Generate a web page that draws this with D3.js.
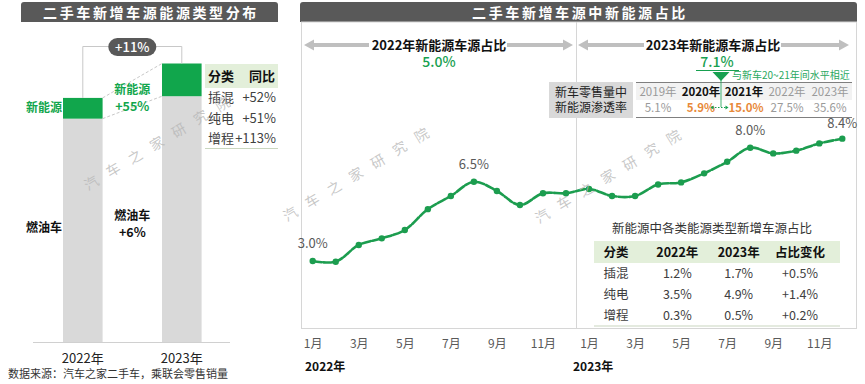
<!DOCTYPE html>
<html><head><meta charset="utf-8">
<script src="https://cdn.jsdelivr.net/npm/d3@7"></script>
<style>
body{margin:0;background:#fff;}
svg{display:block;font-family:"Noto Sans CJK SC","Noto Sans",sans-serif;}
</style></head>
<body><svg id="c" width="865" height="384"></svg>
<script>
// ---------- data ----------
const years = ["2022年", "2023年"];
const iceVolume = [91.5, 100.7];   // relative volume (2022 total = 100)
const nevVolume = [8.5, 13.4];
const yoyTypes = ["插混", "纯电", "增程"];
const yoyValues = ["+52%", "+51%", "+113%"];

const monthLabels = ["1月","2月","3月","4月","5月","6月","7月","8月","9月","10月","11月","12月",
                     "1月","2月","3月","4月","5月","6月","7月","8月","9月","10月","11月","12月"];
const nevShare = [3.0, 2.97, 3.71, 4.0, 4.37, 5.29, 5.87, 6.5, 6.09, 5.47, 5.99, 5.99,
                  6.18, 5.87, 5.87, 6.38, 6.47, 6.87, 7.38, 8.0, 7.75, 7.87, 8.19, 8.4];
const labeledPoints = [0, 7, 19, 23];

const penYears = ["2019年", "2020年", "2021年", "2022年", "2023年"];
const penValues = ["5.1%", "5.9%", "15.0%", "27.5%", "35.6%"];

const shareHeader = ["分类", "2022年", "2023年", "占比变化"];
const shareTypes = ["插混", "纯电", "增程"];
const share2022 = ["1.2%", "3.5%", "0.3%"];
const share2023 = ["1.7%", "4.9%", "0.5%"];
const shareChange = ["+0.5%", "+1.4%", "+0.2%"];

// ---------- setup ----------
const svg = d3.select("#c");
const GREEN = "#11a64c", LINEG = "#1c9d4f", GRAY = "#d9d9d9", DARK = "#595959", TXT = "#404040";

// ---------- headers ----------
function header(x, w, label) {
  svg.append("path").attr("d", `M${x},22 V5 Q${x},2 ${x+3},2 H${x+w-3} Q${x+w},2 ${x+w},5 V22 Z`).attr("fill", DARK);
  svg.append("text").attr("x", x + w/2 + 1.5).attr("y", 17.5).attr("text-anchor", "middle")
    .attr("fill", "#fff").attr("font-size", 14).attr("font-weight", 700).attr("letter-spacing", 2.6).text(label);
}
header(21, 257, "二手车新增车源能源类型分布");
header(300, 557, "二手车新增车源中新能源占比");

// ---------- left panel ----------
const xb = d3.scaleBand().domain(years).range([3.6, 261]).padding(0.6);
const yb = d3.scaleLinear().domain([0, 114.1]).range([342, 63.5]);
const bw = xb.bandwidth();
const left = svg.append("g");

left.selectAll(".ice").data(years).join("rect")
  .attr("x", d => xb(d)).attr("width", bw)
  .attr("y", (d,i) => yb(iceVolume[i])).attr("height", (d,i) => yb(0) - yb(iceVolume[i]))
  .attr("fill", GRAY);
left.selectAll(".nev").data(years).join("rect")
  .attr("x", d => xb(d)).attr("width", bw)
  .attr("y", (d,i) => yb(iceVolume[i] + nevVolume[i])).attr("height", (d,i) => yb(iceVolume[i]) - yb(iceVolume[i] + nevVolume[i]))
  .attr("fill", GREEN);
left.append("line").attr("x1", 33).attr("x2", 230).attr("y1", yb(0)+0.5).attr("y2", yb(0)+0.5).attr("stroke", "#d0d0d0");
left.selectAll(".yl").data(years).join("text")
  .attr("x", d => xb(d) + bw/2).attr("y", 363).attr("text-anchor", "middle")
  .attr("font-size", 13).attr("fill", "#222").text(d => d);

// connecting dashed lines
const x0r = xb(years[0]) + bw, x1l = xb(years[1]);
[[iceVolume[0]+nevVolume[0], iceVolume[1]+nevVolume[1]], [iceVolume[0], iceVolume[1]]].forEach(([a,b]) => {
  left.append("line").attr("x1", x0r).attr("y1", yb(a)).attr("x2", x1l).attr("y2", yb(b))
    .attr("stroke", "#c8c8c8").attr("stroke-dasharray", "3,2");
});
// bracket
const cx0 = xb(years[0]) + bw/2, cx1 = xb(years[1]) + bw/2, topY = 46.5;
left.append("path").attr("d", `M${cx0},${yb(iceVolume[0]+nevVolume[0])} V${topY} H${cx1} V${yb(iceVolume[1]+nevVolume[1])}`)
  .attr("fill", "none").attr("stroke", "#c8c8c8");
const mid = (x0r + x1l) / 2;
left.append("rect").attr("x", mid - 24).attr("y", 38).attr("width", 48).attr("height", 18).attr("rx", 9).attr("fill", DARK);
left.append("text").attr("x", mid).attr("y", 52).attr("text-anchor", "middle").attr("fill", "#fff")
  .attr("font-size", 13).attr("font-weight", 500).text("+11%");

left.append("text").attr("x", 44).attr("y", 112).attr("text-anchor", "middle").attr("fill", GREEN)
  .attr("font-size", 12).attr("font-weight", 700).text("新能源");
left.append("text").attr("x", 44).attr("y", 232).attr("text-anchor", "middle").attr("fill", "#111")
  .attr("font-size", 12).attr("font-weight", 700).text("燃油车");
left.append("text").attr("x", mid).attr("y", 94).attr("text-anchor", "middle").attr("fill", GREEN)
  .attr("font-size", 12).attr("font-weight", 700).text("新能源");
left.append("text").attr("x", mid).attr("y", 111).attr("text-anchor", "middle").attr("fill", GREEN)
  .attr("font-size", 12.5).attr("font-weight", 700).text("+55%");
left.append("text").attr("x", mid).attr("y", 220).attr("text-anchor", "middle").attr("fill", "#111")
  .attr("font-size", 12).attr("font-weight", 700).text("燃油车");
left.append("text").attr("x", mid).attr("y", 237).attr("text-anchor", "middle").attr("fill", "#111")
  .attr("font-size", 12.5).attr("font-weight", 700).text("+6%");

// small yoy table
left.append("rect").attr("x", 205).attr("y", 64).attr("width", 73).attr("height", 24).attr("fill", "#e3efda");
left.append("text").attr("x", 208).attr("y", 81).attr("font-size", 13).attr("font-weight", 700).attr("fill", "#111").text("分类");
left.append("text").attr("x", 275).attr("y", 81).attr("text-anchor", "end").attr("font-size", 13).attr("font-weight", 700).attr("fill", "#111").text("同比");
yoyTypes.forEach((t, i) => {
  left.append("text").attr("x", 208).attr("y", 102 + i*20.5).attr("font-size", 13).attr("fill", TXT).text(t);
  left.append("text").attr("x", 276).attr("y", 102 + i*20.5).attr("text-anchor", "end").attr("font-size", 13).attr("fill", TXT).text(yoyValues[i]);
});
left.append("line").attr("x1", 205).attr("x2", 278).attr("y1", 148.5).attr("y2", 148.5).attr("stroke", "#c9d6bf").attr("stroke-width", 1.2);

svg.append("text").attr("x", 8).attr("y", 378).attr("font-size", 11).attr("fill", "#333").text("数据来源：汽车之家二手车，乘联会零售销量");

// ---------- right panel ----------
const right = svg.append("g");
right.append("rect").attr("x", 301.5).attr("y", 22).attr("width", 555).attr("height", 306.5)
  .attr("fill", "none").attr("stroke", "#d6d6d6");
right.append("line").attr("x1", 576.5).attr("x2", 576.5).attr("y1", 22).attr("y2", 328).attr("stroke", "#d6d6d6");

function sectionArrow(x1, x2, tx0, tx1, y) {
  right.append("path").attr("d", `M${x1},${y} l10,-5.5 v3.5 h${tx0 - x1 - 10} v4 h${-(tx0 - x1 - 10)} v3.5 Z`).attr("fill", "#bfbfbf");
  right.append("path").attr("d", `M${x2},${y} l-10,-5.5 v3.5 h${-(x2 - tx1 - 10)} v4 h${x2 - tx1 - 10} v3.5 Z`).attr("fill", "#bfbfbf");
}
sectionArrow(304, 573, 369, 507, 45);
sectionArrow(578, 849, 644, 781, 45);
right.append("text").attr("x", 439).attr("y", 50).attr("text-anchor", "middle").attr("font-size", 13).attr("font-weight", 700).attr("fill", "#111").text("2022年新能源车源占比");
right.append("text").attr("x", 439).attr("y", 67).attr("text-anchor", "middle").attr("font-size", 14).attr("font-weight", 500).attr("fill", "#17a050").text("5.0%");
right.append("text").attr("x", 713).attr("y", 50).attr("text-anchor", "middle").attr("font-size", 13).attr("font-weight", 700).attr("fill", "#111").text("2023年新能源车源占比");
right.append("text").attr("x", 717).attr("y", 67).attr("text-anchor", "middle").attr("font-size", 14).attr("font-weight", 500).attr("fill", "#17a050").text("7.1%");
right.append("line").attr("x1", 696).attr("x2", 739).attr("y1", 70.5).attr("y2", 70.5).attr("stroke", "#17a050").attr("stroke-width", 1.2);
right.append("path").attr("d", "M712.5,72 H729.5 L721,81 Z").attr("fill", "#17a050");
right.append("text").attr("x", 732).attr("y", 79).attr("font-size", 10).attr("fill", "#2aa860").text("与新车20~21年间水平相近");

// penetration table
right.append("rect").attr("x", 549).attr("y", 82).attr("width", 84).attr("height", 36).attr("fill", "#d9d9d9");
right.append("text").attr("x", 591).attr("y", 97).attr("text-anchor", "middle").attr("font-size", 12).attr("fill", "#222").text("新车零售量中");
right.append("text").attr("x", 591).attr("y", 112).attr("text-anchor", "middle").attr("font-size", 12).attr("fill", "#222").text("新能源渗透率");
right.append("rect").attr("x", 636).attr("y", 83).attr("width", 216).attr("height", 17).attr("fill", "#f2f2f2");
right.append("line").attr("x1", 636).attr("x2", 852).attr("y1", 82.5).attr("y2", 82.5).attr("stroke", "#7f7f7f");
right.append("line").attr("x1", 636).attr("x2", 852).attr("y1", 117.5).attr("y2", 117.5).attr("stroke", "#7f7f7f");
const penX = d3.scalePoint().domain(penYears).range([658, 830]);
penYears.forEach((y, i) => {
  const hi = (i === 1 || i === 2);
  right.append("text").attr("x", penX(y)).attr("y", 96).attr("text-anchor", "middle").attr("font-size", 11.5)
    .attr("font-weight", hi ? 700 : 400).attr("fill", hi ? "#111" : "#9a9a9a").text(y);
  right.append("text").attr("x", penX(y) + (i === 2 ? 2 : 0)).attr("y", 112).attr("text-anchor", "middle").attr("font-size", 11.5)
    .attr("font-weight", hi ? 700 : 400).attr("fill", hi ? "#e8893a" : "#9a9a9a").text(penValues[i]);
});
right.append("line").attr("x1", 721).attr("x2", 721).attr("y1", 80).attr("y2", 107).attr("stroke", "#17a050").attr("stroke-width", 0.8);
right.append("line").attr("x1", 712).attr("x2", 726).attr("y1", 107.5).attr("y2", 107.5).attr("stroke", "#17a050").attr("stroke-width", 1).attr("stroke-dasharray", "1.5,1.5");
right.append("path").attr("d", "M710.5,107.5 l3,-2 v4 Z M728.5,107.5 l-3,-2 v4 Z").attr("fill", "#17a050");

// line chart
const x = d3.scalePoint().domain(d3.range(nevShare.length)).range([312.7, 842.3]);
const y = d3.scaleLinear().domain([0, 10]).range([329, 102.4]);
const line = d3.line().x((d, i) => x(i)).y(d => y(d)).curve(d3.curveCatmullRom.alpha(0.5));
right.append("path").datum(nevShare).attr("d", line).attr("fill", "none").attr("stroke", LINEG)
  .attr("stroke-width", 2.6).attr("stroke-dasharray", "9,2").attr("stroke-linecap", "round");
right.selectAll(".pt").data(nevShare).join("circle").attr("cx", (d, i) => x(i)).attr("cy", d => y(d))
  .attr("r", 3.2).attr("fill", LINEG);
right.selectAll(".lbl").data(labeledPoints).join("text")
  .attr("x", i => x(i)).attr("y", i => y(nevShare[i]) - (i === 23 ? 11 : 13)).attr("text-anchor", "middle")
  .attr("font-size", 13).attr("fill", DARK).text(i => nevShare[i].toFixed(1) + "%");

// x axis
const xAxis = d3.axisBottom(x).tickValues(d3.range(0, 24, 2)).tickFormat(i => monthLabels[i]).tickSize(0).tickPadding(0);
const ax = svg.append("g").attr("transform", "translate(0,339)").call(xAxis);
ax.select(".domain").remove();
ax.selectAll("text").attr("font-size", 12).attr("fill", DARK).attr("dy", "0.71em").style("font-family", '"Noto Sans CJK SC","Noto Sans",sans-serif');
svg.append("text").attr("x", 305).attr("y", 371).attr("font-size", 12).attr("font-weight", 700).attr("fill", "#111").text("2022年");
svg.append("text").attr("x", 573).attr("y", 371).attr("font-size", 12).attr("font-weight", 700).attr("fill", "#111").text("2023年");

// share table
right.append("text").attr("x", 712).attr("y", 233).attr("text-anchor", "middle").attr("font-size", 12.5).attr("fill", "#333").text("新能源中各类能源类型新增车源占比");
right.append("rect").attr("x", 594).attr("y", 241).attr("width", 246).attr("height", 22).attr("fill", "#e3efda");
const colX = d3.scalePoint().domain(shareHeader).range([616, 800]);
shareHeader.forEach(h => {
  right.append("text").attr("x", colX(h)).attr("y", 257).attr("text-anchor", "middle").attr("font-size", 12.5)
    .attr("font-weight", 700).attr("fill", "#111").text(h);
});
shareTypes.forEach((t, i) => {
  const row = [t, share2022[i], share2023[i], shareChange[i]];
  row.forEach((v, j) => {
    right.append("text").attr("x", colX(shareHeader[j])).attr("y", 278 + i*21).attr("text-anchor", "middle")
      .attr("font-size", 12.5).attr("fill", TXT).text(v);
  });
});
right.append("line").attr("x1", 594).attr("x2", 840).attr("y1", 326).attr("y2", 326).attr("stroke", "#c9d6bf").attr("stroke-width", 1.2);

// watermarks (on top)
[[88,191],[287,222],[539,224]].forEach(([wx,wy]) => {
  svg.append("text").attr("transform", `translate(${wx},${wy}) rotate(-31)`)
    .attr("font-size", 14).attr("fill", "#b5b5b5").attr("fill-opacity", 0.75).attr("letter-spacing", 11.5)
    .text("汽车之家研究院");
});
</script></body></html>
